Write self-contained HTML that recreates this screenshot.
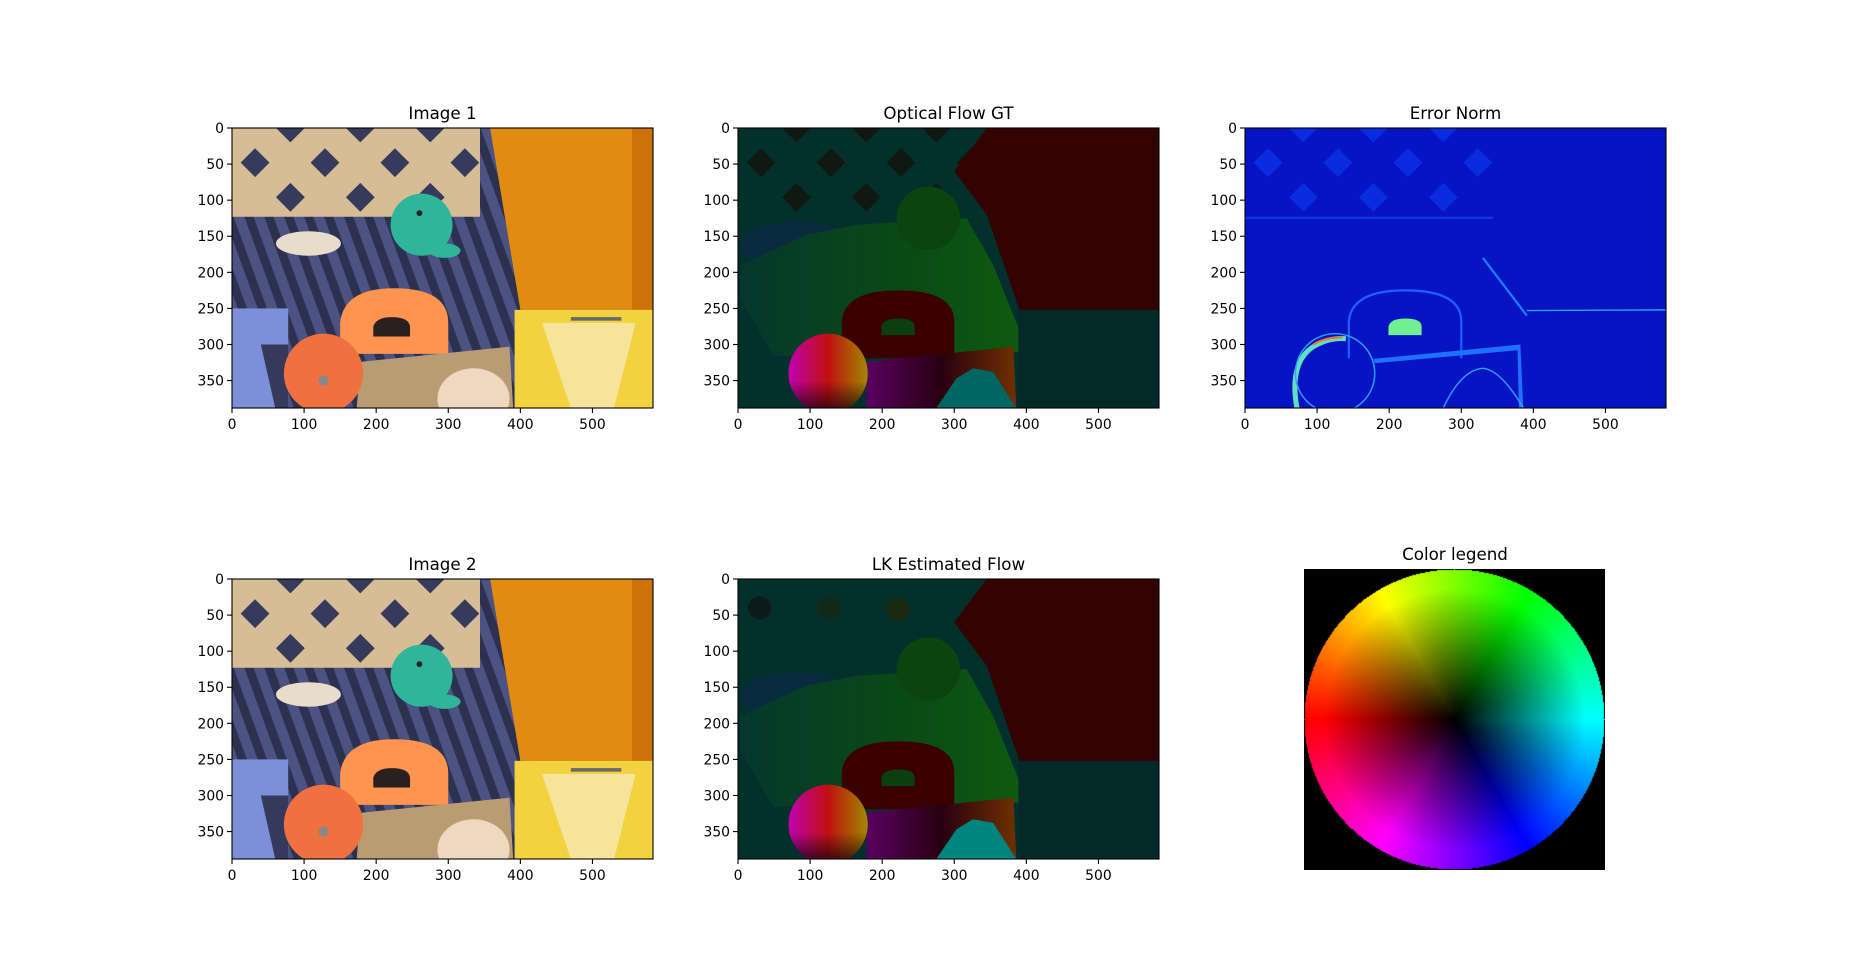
<!DOCTYPE html>
<html><head><meta charset="utf-8">
<style>
html,body{margin:0;padding:0;background:#fff;}
#wrap{position:relative;width:1850px;height:977px;overflow:hidden;font-family:"DejaVu Sans","Liberation Sans",sans-serif;}
svg text{font-family:"DejaVu Sans","Liberation Sans",sans-serif;fill:#000;}
#wheel{position:absolute;left:1304px;top:569px;}
</style></head>
<body>
<div id="wrap">
<svg id="fig" width="1850" height="977" xmlns="http://www.w3.org/2000/svg">
<defs>
<pattern id="stripes" width="26" height="26" patternUnits="userSpaceOnUse" patternTransform="rotate(-20)">
<rect width="26" height="26" fill="#4c5282"/><rect width="12" height="26" fill="#2c3150"/></pattern>
<linearGradient id="wheelLR" x1="0" x2="1"><stop offset="0" stop-color="#c000b0"/><stop offset="0.5" stop-color="#c01010"/><stop offset="1" stop-color="#a08800"/></linearGradient>
<linearGradient id="wheelTB" x1="0" y1="0" x2="0" y2="1"><stop offset="0.6" stop-color="#000" stop-opacity="0"/><stop offset="1" stop-color="#100010" stop-opacity="0.8"/></linearGradient>
<linearGradient id="stripGrad" x1="0" x2="1"><stop offset="0" stop-color="#5a0060"/><stop offset="0.5" stop-color="#280010"/><stop offset="1" stop-color="#703000"/></linearGradient>
<linearGradient id="greenGrad" x1="0" x2="1"><stop offset="0" stop-color="#04382c"/><stop offset="0.6" stop-color="#0a4a14"/><stop offset="1" stop-color="#0e5a10"/></linearGradient>
</defs>
</svg>
<canvas id="wheel" width="301" height="301"></canvas>
</div>
<script>
// axis data
const xTicks = [0, 100, 200, 300, 400, 500];
const yTicks = [0, 50, 100, 150, 200, 250, 300, 350];
const imgW = 584, imgH = 388;
const panels = [
  {name:'image-1', title:'Image 1', kind:'photo', left:232, top:128},
  {name:'optical-flow-gt', title:'Optical Flow GT', kind:'flow', left:738, top:128},
  {name:'error-norm', title:'Error Norm', kind:'error', left:1245, top:128},
  {name:'image-2', title:'Image 2', kind:'photo', left:232, top:579},
  {name:'lk-estimated-flow', title:'LK Estimated Flow', kind:'flowlk', left:738, top:579}
];
const AW = 421, AH = 280;
const NS = 'http://www.w3.org/2000/svg';
const fig = document.getElementById('fig');

function lattice(light, dark, holeR){
  let s = `<rect x="0" y="0" width="344" height="123" fill="${light}"/>`;
  const rows = [[0,[81,178,275]],[48,[32,129,226,323]],[96,[81,178,275]]];
  rows.forEach(([y,xs])=>xs.forEach(x=>{
    s += `<polygon points="${x},${y-holeR} ${x+holeR},${y} ${x},${y+holeR} ${x-holeR},${y}" fill="${dark}"/>`;
  }));
  return s;
}
function photo(){
  return `<rect width="584" height="388" fill="url(#stripes)"/>`+
  lattice('#d6bd96','#363b5c',20)+
  `<polygon points="345,0 584,0 584,252 400,252 358,0" fill="#e08c12"/>
   <rect x="555" y="0" width="29" height="252" fill="#cc7208"/>
   <rect x="392" y="252" width="192" height="136" fill="#f2d23e"/>
   <polygon points="430,270 560,270 530,388 470,388" fill="#f5e49a"/>
   <rect x="470" y="262" width="70" height="5" fill="#6a6a6a"/>
   <rect x="0" y="250" width="78" height="138" fill="#7c8fd8"/>
   <polygon points="40,300 78,300 78,388 60,388" fill="#353a5c"/>
   <ellipse cx="106" cy="160" rx="45" ry="17" fill="#e8dccb"/>
   <circle cx="263" cy="134" r="43" fill="#2fb59a"/>
   <ellipse cx="295" cy="170" rx="22" ry="10" fill="#2fb59a"/>
   <circle cx="260" cy="118" r="4" fill="#222"/>
   <path d="M150,313 L150,270 Q155,222 225,222 Q300,222 300,270 L300,313 Z" fill="#ff9350"/>
   <path d="M196,289 L196,275 Q200,262 222,262 Q245,262 247,275 L247,289 Z" fill="#2a2020"/>
   <polygon points="178,324 385,303 390,388 173,388" fill="#b99c72"/>
   <circle cx="127" cy="340" r="55" fill="#f07040"/>
   <circle cx="127" cy="350" r="7" fill="#888"/>
   <ellipse cx="335" cy="375" rx="50" ry="42" fill="#f0d8c0"/>`;
}
function flow(lk){
  return `<rect width="584" height="388" fill="#03302c"/>`+
  (lk?`<rect x="0" y="0" width="344" height="123" fill="#04302c"/><circle cx="30" cy="40" r="16" fill="#0c1a1a"/><circle cx="127" cy="40" r="16" fill="#102a18"/><circle cx="222" cy="42" r="16" fill="#1a2a10"/>`
     :lattice('#04302c','#101812',20))+
  `<polygon points="345,0 584,0 584,254 391,254 345,120 300,60" fill="#330202"/>
   <ellipse cx="81" cy="162" rx="79" ry="32" fill="#0a2a46" opacity="0.8"/>
   <polygon points="164,134 317,125 354,190 391,282 391,310 141,315 49,315 3,236 3,190 95,148" fill="url(#greenGrad)"/>
   <circle cx="264" cy="125" r="44" fill="#0c4410"/>
   <rect x="389" y="252" width="195" height="136" fill="#032a28"/>
   <path d="M144,319 L144,268 Q148,225 222,225 Q300,225 300,268 L300,319 Z" fill="#3a0000"/>
   <path d="M199,287 L199,275 Q202,264 222,264 Q245,264 245,275 L245,287 Z" fill="#0a4010"/>
   <polygon points="178,324 382,303 386,388 178,388" fill="url(#stripGrad)"/>
   <circle cx="125" cy="340" r="55" fill="url(#wheelLR)"/>
   <circle cx="125" cy="340" r="55" fill="url(#wheelTB)"/>
   <polygon points="275,388 303,347 326,333 354,338 386,388" fill="${lk?'#008480':'#006662'}"/>`;
}
function error(){
  return `<rect width="584" height="388" fill="#0614c4"/>`+
  lattice('#0614c4','#0a2ce0',20)+
  `<rect x="0" y="123" width="344" height="3" fill="#1038e0"/>
   <path d="M144,319 L144,268 Q148,225 222,225 Q300,225 300,268 L300,319" fill="none" stroke="#2060ff" stroke-width="3"/>
   <path d="M199,287 L199,275 Q202,264 222,264 Q245,264 245,275 L245,287 Z" fill="#70f090"/>
   <line x1="391" y1="253" x2="584" y2="252" stroke="#30a0ff" stroke-width="2"/>
   <line x1="330" y1="180" x2="391" y2="260" stroke="#2080ff" stroke-width="3"/>
   <path d="M72,388 Q60,320 100,300 Q120,290 140,292" fill="none" stroke="#60e0c0" stroke-width="7"/>
   <path d="M95,300 Q110,290 135,290" fill="none" stroke="#ff7020" stroke-width="3"/>
   <circle cx="125" cy="340" r="55" fill="none" stroke="#30a0ff" stroke-width="2"/>
   <polygon points="178,320 382,300 386,388 380,388 378,308 180,326" fill="#2070ff"/>
   <path d="M275,388 Q300,335 330,333 Q355,335 386,388" fill="none" stroke="#30a0ff" stroke-width="2"/>`;
}

panels.forEach(p=>{
  const g = document.createElementNS(NS,'g');
  
  
  const inner = p.kind==='photo'?photo():p.kind==='flow'?flow(false):p.kind==='flowlk'?flow(true):error();
  g.innerHTML = `<svg x="${p.left}" y="${p.top}" width="${AW}" height="${AH}" viewBox="0 0 ${imgW} ${imgH}" preserveAspectRatio="none" overflow="hidden">${inner}</svg>`;
  const sx = v => p.left + v/imgW*AW;
  const sy = v => p.top + v/imgH*AH;
  let h = '';
  xTicks.forEach(t=>{
    const x = sx(t);
    h += `<line x1="${x}" y1="${p.top+AH}" x2="${x}" y2="${p.top+AH+5}" stroke="#000" stroke-width="1.1"/>`;
    h += `<text x="${x}" y="${p.top+AH+21}" font-size="13.9" text-anchor="middle">${t}</text>`;
  });
  yTicks.forEach(t=>{
    const y = sy(t);
    h += `<line x1="${p.left-5}" y1="${y}" x2="${p.left}" y2="${y}" stroke="#000" stroke-width="1.1"/>`;
    h += `<text x="${p.left-8}" y="${y+5}" font-size="13.9" text-anchor="end">${t}</text>`;
  });
  h += `<rect x="${p.left}" y="${p.top}" width="${AW}" height="${AH}" fill="none" stroke="#000" stroke-width="1.1"/>`;
  h += `<text x="${p.left+AW/2}" y="${p.top-9}" font-size="16.7" text-anchor="middle">${p.title}</text>`;
  g.insertAdjacentHTML('beforeend', h);
  fig.appendChild(g);
});
const lt = document.createElementNS(NS,'text');


lt.setAttribute('x','1455'); lt.setAttribute('y','560'); lt.setAttribute('font-size','16.7'); lt.setAttribute('text-anchor','middle');
lt.textContent = 'Color legend';
fig.appendChild(lt);

const cv = document.getElementById('wheel'), ctx = cv.getContext('2d');
const N = 301, im = ctx.createImageData(N,N), R = 150;
function hsv(h,s,v){h=((h%360)+360)%360;const c=v*s,x=c*(1-Math.abs((h/60)%2-1)),m=v-c;let r,g,b;
 if(h<60)[r,g,b]=[c,x,0];else if(h<120)[r,g,b]=[x,c,0];else if(h<180)[r,g,b]=[0,c,x];else if(h<240)[r,g,b]=[0,x,c];else if(h<300)[r,g,b]=[x,0,c];else[r,g,b]=[c,0,x];
 return [(r+m)*255,(g+m)*255,(b+m)*255];}
for(let j=0;j<N;j++)for(let i=0;i<N;i++){
  const dx=i-R, dy=R-j, r=Math.sqrt(dx*dx+dy*dy), k=(j*N+i)*4;
  let c=[0,0,0];
  if(r<=R){const a=Math.atan2(dy,dx)*180/Math.PI; c=hsv(180-a,1,Math.min(1,r/R*1.15));}
  im.data[k]=c[0];im.data[k+1]=c[1];im.data[k+2]=c[2];im.data[k+3]=255;
}
ctx.putImageData(im,0,0);
</script>
</body></html>
